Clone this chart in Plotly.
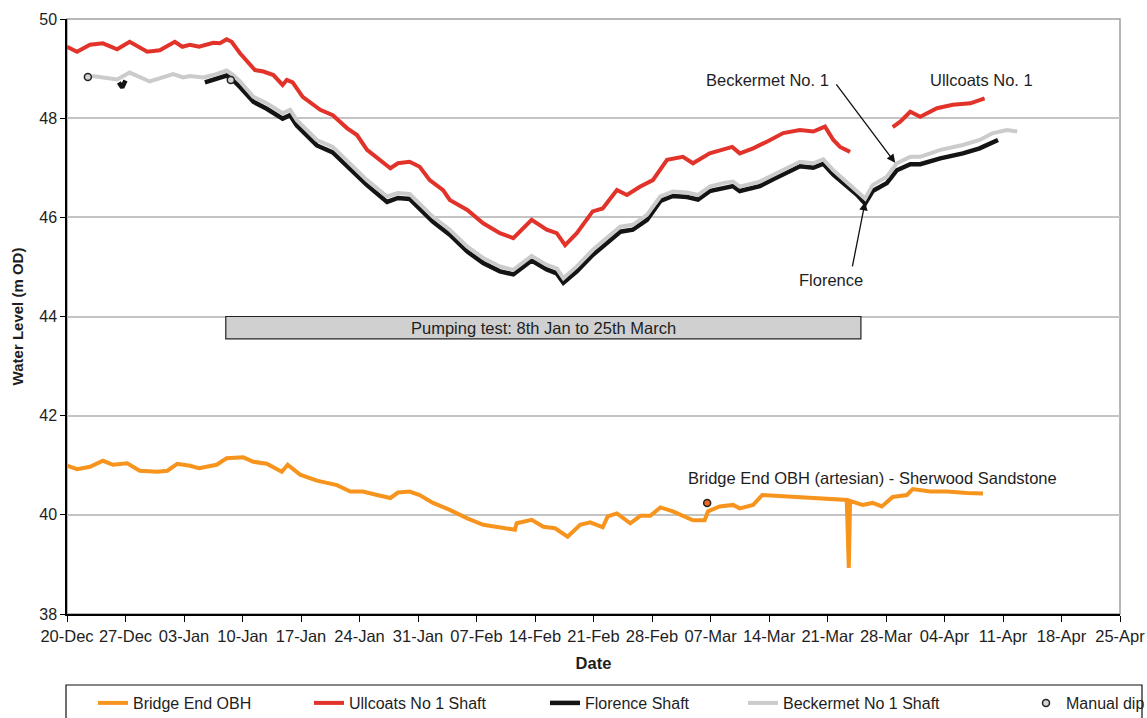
import pandas as pd
import plotly.graph_objects as go

# ---------------- data (days after 20-Dec-2006, water level m OD) ----------------
START = "2006-12-20"

bridge_days = [0, 1.2, 2.75, 4.3, 5.5, 7.2, 8.7, 10.8, 12.0, 13.2, 14.7, 15.8, 17.9, 19.1, 21.1,
               22.3, 23.9, 25.7, 26.4, 27.9, 29.9, 32.3, 33.9, 35.4, 37.1, 38.7, 39.6, 41.0, 42.2,
               43.8, 45.8, 47.9, 49.8, 51.8, 53.6, 53.8, 55.6, 57.0, 58.4, 59.9, 61.4, 62.6, 64.1,
               64.7, 65.8, 67.4, 68.6, 69.8, 71.0, 72.5, 74.9, 76.3, 76.7, 78.1, 79.7, 80.5, 82.1,
               83.2, 85.7, 89.3, 93.3, 93.55, 93.7, 95.2, 96.4, 97.5, 98.8, 100.5, 101.2, 103.3,
               105.3, 107.7, 109.6]
bridge_level = [40.99, 40.92, 40.97, 41.09, 41.01, 41.04, 40.89, 40.87, 40.89, 41.03, 40.99, 40.94,
                41.01, 41.14, 41.16, 41.07, 41.03, 40.87, 41.01, 40.81, 40.69, 40.60, 40.47, 40.47,
                40.40, 40.34, 40.45, 40.47, 40.40, 40.24, 40.10, 39.93, 39.80, 39.75, 39.70, 39.83,
                39.90, 39.76, 39.73, 39.56, 39.80, 39.85, 39.75, 39.97, 40.03, 39.83, 39.98, 39.98,
                40.15, 40.07, 39.89, 39.89, 40.07, 40.17, 40.20, 40.13, 40.20, 40.40, 40.38, 40.34,
                40.30, 38.93, 40.28, 40.20, 40.24, 40.17, 40.36, 40.40, 40.52, 40.47, 40.47, 40.44,
                40.43]

ullcoats_days = [0, 1.2, 2.75, 4.3, 6.0, 7.5, 9.6, 11.1, 12.9, 13.8, 14.7, 15.8, 17.5, 18.3, 19.1,
                 19.7, 20.7, 22.5, 23.5, 24.7, 25.8, 26.3, 27.0, 28.2, 30.3, 31.8, 33.5, 34.7, 35.9,
                 37.5, 38.7, 39.6, 41.0, 42.2, 43.4, 45.0, 45.8, 47.9, 49.8, 51.8, 53.4, 55.6, 57.4,
                 58.6, 59.6, 61.0, 62.9, 64.1, 65.8, 67.0, 68.6, 70.1, 71.8, 73.7, 74.9, 76.9, 78.5,
                 79.6, 80.5, 82.1, 83.8, 85.7, 87.7, 89.3, 90.7, 91.7, 92.5, 93.7,
                 None,
                 98.8, 99.7, 100.9, 102.1, 104.1, 106.0, 108.1, 109.8]
ullcoats_level = [49.44, 49.34, 49.48, 49.51, 49.39, 49.54, 49.34, 49.37, 49.54, 49.44, 49.48, 49.44,
                  49.52, 49.51, 49.59, 49.54, 49.31, 48.97, 48.94, 48.87, 48.67, 48.77, 48.72, 48.43,
                  48.17, 48.06, 47.80, 47.66, 47.36, 47.16, 46.99, 47.09, 47.12, 47.02, 46.75, 46.55,
                  46.35, 46.15, 45.88, 45.68, 45.58, 45.95, 45.75, 45.68, 45.44, 45.68, 46.12, 46.18,
                  46.55, 46.45, 46.62, 46.75, 47.16, 47.22, 47.09, 47.29, 47.36, 47.42, 47.29, 47.39,
                  47.53, 47.70, 47.76, 47.73, 47.83, 47.56, 47.42, 47.32,
                  None,
                  47.82, 47.93, 48.13, 48.03, 48.20, 48.27, 48.30, 48.40]

florence_days = [6.2, 6.6, 7.0,
                 None,
                 16.5, 17.5, 19.1, 19.9, 20.7, 22.3, 23.9, 25.8, 26.7, 27.5, 29.9, 31.8, 33.9, 35.9,
                 38.3, 39.6, 41.0, 42.2, 43.8, 45.8, 47.9, 49.8, 51.8, 53.4, 55.6, 57.4, 58.6, 59.4,
                 61.0, 62.9, 64.6, 66.2, 67.7, 69.4, 71.0, 72.5, 74.2, 75.5, 76.9, 78.5, 79.7, 80.5,
                 82.9, 84.5, 86.2, 87.7, 89.3, 90.5, 91.7, 93.3, 94.5, 95.5, 96.4, 98.1, 99.3, 100.9,
                 102.1, 104.5, 107.2, 109.2, 111.4]
florence_level = [48.72, 48.62, 48.76,
                  None,
                  48.72, 48.78, 48.86, 48.76, 48.63, 48.33, 48.19, 47.99, 48.06, 47.85, 47.45, 47.31,
                  46.98, 46.65, 46.31, 46.39, 46.37, 46.18, 45.91, 45.65, 45.31, 45.08, 44.91, 44.85,
                  45.13, 44.95, 44.87, 44.68, 44.91, 45.24, 45.48, 45.71, 45.75, 45.95, 46.33, 46.43,
                  46.41, 46.36, 46.53, 46.60, 46.63, 46.53, 46.63, 46.77, 46.90, 47.03, 47.00, 47.08,
                  46.86, 46.63, 46.46, 46.28, 46.53, 46.69, 46.95, 47.07, 47.07, 47.19, 47.29, 47.39,
                  47.56]

beckermet_days = [3.0, 6.0, 7.5, 9.9, 12.7, 13.9, 14.7, 16.3, 17.5, 19.1, 19.9, 20.7, 22.3, 23.9,
                  25.8, 26.7, 27.5, 29.9, 31.8, 33.9, 35.9, 38.3, 39.6, 41.0, 42.2, 43.8, 45.8,
                  47.9, 49.8, 51.8, 53.4, 55.6, 57.4, 58.6, 59.4, 61.0, 62.9, 64.6, 66.2, 67.7,
                  69.4, 71.0, 72.5, 74.2, 75.5, 76.9, 78.5, 79.7, 80.5, 82.9, 84.5, 86.2, 87.7,
                  89.3, 90.5, 91.7, 93.3, 94.5, 95.5, 96.4, 98.1, 99.3, 100.9, 102.1, 104.5, 107.2,
                  109.2, 110.8, 112.5, 113.7]
beckermet_level = [48.85, 48.78, 48.92, 48.74, 48.89, 48.82, 48.85, 48.82, 48.87, 48.96, 48.87,
                   48.74, 48.43, 48.30, 48.10, 48.17, 47.96, 47.56, 47.42, 47.09, 46.75, 46.42,
                   46.49, 46.47, 46.28, 46.01, 45.75, 45.41, 45.18, 45.01, 44.94, 45.22, 45.04,
                   44.97, 44.77, 45.01, 45.34, 45.58, 45.81, 45.85, 46.05, 46.42, 46.52, 46.50,
                   46.45, 46.62, 46.69, 46.72, 46.62, 46.72, 46.86, 46.99, 47.12, 47.09, 47.17,
                   46.95, 46.72, 46.55, 46.38, 46.65, 46.82, 47.09, 47.22, 47.22, 47.36, 47.46,
                   47.56, 47.70, 47.76, 47.73]

dip_days = [2.5, 19.6, 76.6]
dip_level = [48.83, 48.77, 40.24]
dip_fill = ["#d4d4d4", "#d4d4d4", "#f26522"]

series_names = ["Bridge End OBH", "Ullcoats No 1 Shaft", "Florence Shaft",
                "Beckermet No 1 Shaft", "Manual dip"]
tick_days = list(range(0, 127, 7))

# ---------------- helpers ----------------
base = pd.Timestamp(START)


def to_dates(days):
    return [None if d is None else base + pd.Timedelta(days=d) for d in days]


FONT = "Liberation Sans, Arial, sans-serif"
TXT = "#1e1e1e"

fig = go.Figure()

fig.add_trace(go.Scatter(x=to_dates(bridge_days), y=bridge_level, mode="lines",
                         name=series_names[0], line=dict(color="#f7941d", width=4),
                         legend="legend"))
fig.add_trace(go.Scatter(x=to_dates(ullcoats_days), y=ullcoats_level, mode="lines",
                         name=series_names[1], line=dict(color="#e2332a", width=4),
                         connectgaps=False, legend="legend2"))
fig.add_trace(go.Scatter(x=to_dates(florence_days), y=florence_level, mode="lines",
                         name=series_names[2], line=dict(color="#141414", width=4.5),
                         connectgaps=False, legend="legend3"))
fig.add_trace(go.Scatter(x=to_dates(beckermet_days), y=beckermet_level, mode="lines",
                         name=series_names[3], line=dict(color="#cbcbcb", width=4),
                         legend="legend4"))
fig.add_trace(go.Scatter(x=to_dates(dip_days), y=dip_level, mode="markers",
                         name=series_names[4],
                         marker=dict(size=7, color=dip_fill, line=dict(color="#222", width=1.5)),
                         legend="legend5"))

W, H = 1147, 718
L, R, T, B = 67, 1120, 19, 614          # plot area in pixels
pw, ph = R - L, B - T


def px_x(p):
    return (p - L) / pw


def px_y(p):
    return (B - p) / ph


leg_common = dict(orientation="h", yanchor="middle", xanchor="left", y=px_y(703),
                  bgcolor="rgba(0,0,0,0)", borderwidth=0,
                  font=dict(family=FONT, size=16, color=TXT))

fig.update_layout(
    width=W, height=H, autosize=False,
    margin=dict(l=L, r=W - R, t=T, b=H - B, pad=0, autoexpand=False),
    paper_bgcolor="white", plot_bgcolor="white",
    font=dict(family=FONT, size=16, color=TXT),
    legend=dict(leg_common, x=px_x(93)),
    legend2=dict(leg_common, x=px_x(309)),
    legend3=dict(leg_common, x=px_x(545)),
    legend4=dict(leg_common, x=px_x(743)),
    legend5=dict(leg_common, x=px_x(1026)),
    showlegend=True,
)

fig.update_xaxes(
    range=[base, base + pd.Timedelta(days=126)],
    tickvals=to_dates(tick_days), tickformat="%d-%b",
    ticks="outside", ticklen=6, tickcolor="#000", tickwidth=1,
    showline=True, linecolor="#000", linewidth=1.5,
    showgrid=False, zeroline=False,
    tickfont=dict(family=FONT, size=16.5, color=TXT),
    title=dict(text="Date", font=dict(family=FONT, size=16.5, color=TXT, weight="bold"),
               standoff=14),
    automargin=False,
)
fig.update_yaxes(
    range=[38, 50], dtick=2, tick0=38,
    ticks="outside", ticklen=5, tickcolor="#000", tickwidth=1,
    showline=True, linecolor="#000", linewidth=1.5,
    showgrid=True, gridcolor="#c4c4c4", gridwidth=1.5, zeroline=False,
    tickfont=dict(family=FONT, size=16, color=TXT),
    title=dict(text="Water Level (m OD)",
               font=dict(family=FONT, size=15, color=TXT, weight="bold"), standoff=12),
    automargin=False,
)

# plot area border (top / right)
fig.add_shape(type="rect", xref="paper", yref="paper", x0=0, x1=1, y0=0, y1=1,
              line=dict(color="#a0a0a0", width=1.5), layer="below")

# legend frame
fig.add_shape(type="rect", xref="paper", yref="paper", x0=px_x(66), x1=px_x(1142),
              y0=px_y(730), y1=px_y(685), line=dict(color="#111", width=1.2))

# pumping test box
fig.add_shape(type="rect", xref="x", yref="y",
              x0=base + pd.Timedelta(days=19), x1=base + pd.Timedelta(days=95),
              y0=43.55, y1=44.0, fillcolor="#d0d0d0", line=dict(color="#222", width=1.2))
fig.add_annotation(x=base + pd.Timedelta(days=57), y=43.775, xref="x", yref="y",
                   text="Pumping test: 8th Jan to 25th March", showarrow=False,
                   font=dict(family=FONT, size=16.5, color=TXT))

# labels
labels = [
    ("Beckermet No. 1", 83.8, 48.77),
    ("Ullcoats No. 1", 109.4, 48.77),
    ("Florence", 91.4, 44.74),
    ("Bridge End OBH (artesian) - Sherwood Sandstone", 96.4, 40.74),
]
for text, d, v in labels:
    fig.add_annotation(x=base + pd.Timedelta(days=d), y=v, xref="x", yref="y", text=text,
                       showarrow=False, font=dict(family=FONT, size=16.5, color=TXT))

# arrows
for d, v, ax, ay in [(99.1, 47.10, -60, -80), (95.5, 46.31, -13, 66)]:
    fig.add_annotation(x=base + pd.Timedelta(days=d), y=v, xref="x", yref="y", text="",
                       showarrow=True, ax=ax, ay=ay, arrowhead=2, arrowsize=1.3,
                       arrowwidth=1.3, arrowcolor="#111", standoff=0, startstandoff=0)

fig.write_html(
    "out.html",
    config={"displayModeBar": False},
    post_script="document.documentElement.style.margin='0';"
                "document.body.style.margin='0';"
                "document.documentElement.style.overflow='hidden';"
                "document.body.style.overflow='hidden';",
)
